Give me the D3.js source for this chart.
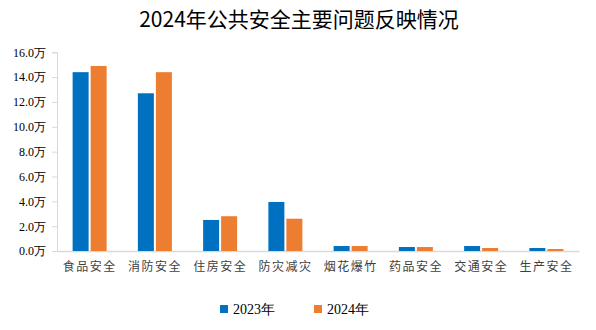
<!DOCTYPE html>
<html><head><meta charset="utf-8">
<script src="https://cdn.jsdelivr.net/npm/d3@7"></script>
<style>body{margin:0;background:#fff;}svg{display:block;}</style>
</head><body>
<svg id="c" width="596" height="330"></svg>
<script>
const categories = ["食品安全","消防安全","住房安全","防灾减灾","烟花爆竹","药品安全","交通安全","生产安全"];
const series2023 = [14.4, 12.7, 2.5, 3.95, 0.4, 0.32, 0.4, 0.24];
const series2024 = [14.9, 14.4, 2.8, 2.6, 0.4, 0.32, 0.24, 0.16];
const seriesNames = ["2023年","2024年"];
const colors = ["#0070c0","#ed7d31"];
const yTicks = [0,2,4,6,8,10,12,14,16];
const chartTitle = "2024年公共安全主要问题反映情况";

(function(){
const svg = d3.select("#c");
const mLeft = 57, mRight = 579, mTop = 52.3, mBottom = 251;
const x0 = d3.scaleBand().domain(categories).range([mLeft, mRight]).padding(0);
const y = d3.scaleLinear().domain([0,16]).range([mBottom, mTop]);
const barW = 16, gap = 2;
const x1 = d3.scaleOrdinal().domain([0,1]).range([-barW-gap/2, gap/2]);

svg.append("text").attr("x", 299).attr("y", 27).attr("text-anchor","middle")
  .attr("font-family","'Noto Sans CJK SC', sans-serif").attr("font-size", 21)
  .attr("fill","#000").text(chartTitle);

const yAxis = d3.axisLeft(y).tickValues(yTicks).tickSize(5).tickFormat(d => d3.format(".1f")(d) + "万");
const gy = svg.append("g").attr("transform",`translate(${mLeft},0)`).call(yAxis);
gy.select(".domain").attr("stroke","#d9d9d9");
gy.selectAll(".tick line").attr("stroke","#d9d9d9");
gy.selectAll(".tick text").attr("font-family","'Liberation Serif', serif").attr("font-size",12).attr("fill","#000").attr("x",-11).attr("dy","0.32em");

const xAxis = d3.axisBottom(x0).tickSize(0).tickPadding(11);
const gx = svg.append("g").attr("transform",`translate(0,${mBottom})`).call(xAxis);
gx.select(".domain").attr("stroke","#d9d9d9").attr("stroke-width",1.5);
gx.selectAll(".tick text").attr("font-family","'Noto Sans CJK SC', sans-serif").attr("font-size",12)
  .attr("fill","#404040").attr("letter-spacing","1.5px").attr("dy","0.71em");

const data = [series2023, series2024];
data.forEach((s, si) => {
  svg.append("g").selectAll("rect").data(s).join("rect")
    .attr("x", (d,i) => x0(categories[i]) + x0.bandwidth()/2 + x1(si))
    .attr("y", d => y(d)).attr("width", barW).attr("height", d => mBottom - y(d))
    .attr("fill", colors[si]);
});

const legX = [220, 314];
seriesNames.forEach((n, i) => {
  const g = svg.append("g").attr("transform",`translate(${legX[i]},305)`);
  g.append("rect").attr("width",8).attr("height",8).attr("fill",colors[i]);
  g.append("text").attr("x",13).attr("y",9).attr("font-family","'Liberation Serif', serif")
    .attr("font-size",14).attr("fill","#000").text(n);
});
})();
</script>
</body></html>
